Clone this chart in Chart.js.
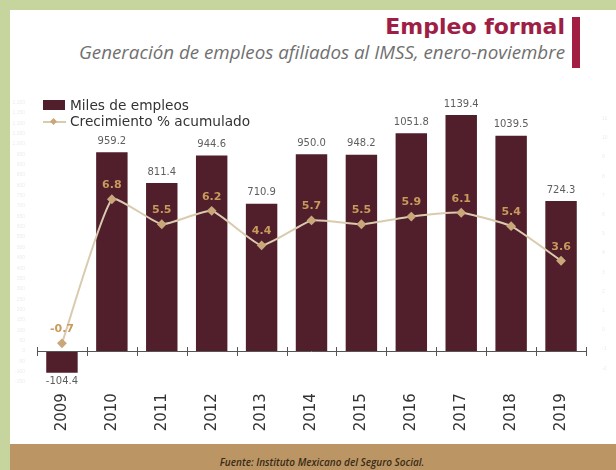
<!DOCTYPE html>
<html>
<head>
<meta charset="utf-8">
<script src="https://cdn.jsdelivr.net/npm/chart.js@4.4.1/dist/chart.umd.min.js"></script>
<style>
  body { margin: 0; width: 616px; height: 470px; background: #c5d59d; position: relative; overflow: hidden; font-family: "DejaVu Sans", sans-serif; }
  #panel { position: absolute; left: 10px; top: 10px; width: 606px; height: 434px; background: #fff; }
  #footer { position: absolute; left: 10px; top: 444px; width: 606px; height: 26px; background: #bb9664; }
  #source { position: absolute; left: 10px; width: 606px; top: 455px; text-align: center; padding-left: 18px; box-sizing: border-box;
            font: italic 600 10px "Open Sans", sans-serif; color: #3a2a18; }
  #title { position: absolute; right: 51px; top: 14px; font: bold 22px "DejaVu Sans", sans-serif; color: #9e1e45; white-space: nowrap; }
  #subtitle { position: absolute; right: 51px; top: 42px; font: italic 18.8px "Open Sans", sans-serif; color: #707070; white-space: nowrap; line-height: 1.1; }
  #redbar { position: absolute; left: 572px; top: 17px; width: 8px; height: 51px; background: #a21f43; }
  #chart { position: absolute; left: 10px; top: 90px; }
  .leg { position: absolute; left: 70px; font-size: 13.7px; color: #333; white-space: nowrap; line-height: 16px; }
  #legBox { position: absolute; left: 43px; top: 100px; width: 22px; height: 10px; background: #511f2c; }
  #legLine { position: absolute; left: 43px; top: 121px; width: 23px; height: 2px; background: #d9cbb0; }
  #legDot { position: absolute; left: 51px; top: 119px; width: 5px; height: 5px; background: #c9a77a; transform: rotate(45deg); }
</style>
</head>
<body>
<div id="panel"></div>
<div id="footer"></div>
<div id="source">Fuente: Instituto Mexicano del Seguro Social.</div>
<div id="title">Empleo formal</div>
<div id="subtitle">Generación de empleos afiliados al IMSS, enero-noviembre</div>
<div id="redbar"></div>
<canvas id="chart" width="606" height="350"></canvas>
<div id="legBox"></div>
<div class="leg" style="top:97px">Miles de empleos</div>
<div id="legLine"></div>
<div id="legDot"></div>
<div class="leg" style="top:113px">Crecimiento % acumulado</div>
<script>
const years = ["2009", "2010", "2011", "2012", "2013", "2014", "2015", "2016", "2017", "2018", "2019"];
const empleos = [-104.4, 959.2, 811.4, 944.6, 710.9, 950.0, 948.2, 1051.8, 1139.4, 1039.5, 724.3];
const crecimiento = [-0.7, 6.8, 5.5, 6.2, 4.4, 5.7, 5.5, 5.9, 6.1, 5.4, 3.6];

const barColor = "#511f2c";
const lineColor = "#d9cbb0";
const pointColor = "#c9a77a";
const growthLabelColor = "#c89a5c";

// zero line with small ticks between categories, and the value labels
const decorations = {
  id: "decorations",
  afterDatasetsDraw(chart) {
    const ctx = chart.ctx;
    const area = chart.chartArea;
    const y0 = chart.scales.y.getPixelForValue(0);
    const n = years.length;
    const step = (area.right - area.left) / n;

    ctx.save();
    ctx.strokeStyle = "#555";
    ctx.lineWidth = 1;
    ctx.beginPath();
    ctx.moveTo(area.left, Math.round(y0) + 0.5);
    ctx.lineTo(area.right, Math.round(y0) + 0.5);
    for (let i = 0; i <= n; i++) {
      const x = Math.round(area.left + i * step) + 0.5;
      ctx.moveTo(x, y0 - 4);
      ctx.lineTo(x, y0 + 5);
    }
    ctx.stroke();

    ctx.textAlign = "center";
    ctx.textBaseline = "middle";
    ctx.font = '10px "DejaVu Sans"';
    ctx.fillStyle = "#5e5e5e";
    chart.getDatasetMeta(0).data.forEach((bar, i) => {
      const v = empleos[i];
      const y = v >= 0 ? bar.y - 11 : bar.y + 9;
      ctx.fillText(v.toFixed(1), bar.x, y);
    });

    ctx.font = 'bold 11px "DejaVu Sans"';
    ctx.fillStyle = growthLabelColor;
    chart.getDatasetMeta(1).data.forEach((pt, i) => {
      ctx.fillText(crecimiento[i].toFixed(1), pt.x, pt.y - 14);
    });
    ctx.restore();
  }
};

new Chart(document.getElementById("chart"), {
  type: "bar",
  data: {
    labels: years,
    datasets: [
      {
        type: "bar",
        label: "Miles de empleos",
        data: empleos,
        backgroundColor: barColor,
        barPercentage: 0.63,
        categoryPercentage: 1,
        yAxisID: "y",
        order: 1,
      },
      {
        type: "line",
        label: "Crecimiento % acumulado",
        data: crecimiento,
        borderColor: lineColor,
        borderWidth: 2,
        pointStyle: "rectRot",
        pointRadius: 3.5,
        pointBackgroundColor: pointColor,
        pointBorderColor: pointColor,
        tension: 0.15,
        yAxisID: "y1",
        order: 0,
      },
    ],
  },
  options: {
    responsive: false,
    animation: false,
    devicePixelRatio: 1,
    layout: { padding: { top: 12.5, left: 0, right: 0, bottom: 0 } },
    plugins: {
      legend: { display: false },
      tooltip: { enabled: false },
    },
    scales: {
      x: {
        grid: { display: false, drawTicks: false },
        border: { display: false },
        ticks: {
          maxRotation: 90,
          minRotation: 90,
          padding: 11,
          color: "#333",
          font: { family: "DejaVu Sans", size: 15 },
        },
        afterFit(scale) { scale.height = 57.9; },
      },
      y: {
        position: "left",
        min: -150,
        max: 1200,
        grid: { display: false },
        border: { display: false },
        ticks: { stepSize: 50, color: "#ececec", font: { size: 5 }, padding: 4 },
        afterFit(scale) { scale.width = 27; },
      },
      y1: {
        position: "right",
        min: -2.72,
        max: 11.84,
        grid: { display: false },
        border: { display: false },
        ticks: { stepSize: 1, includeBounds: false, color: "#ececec", font: { size: 5 }, padding: 8 },
        afterFit(scale) { scale.width = 30; },
      },
    },
  },
  plugins: [decorations],
});
</script>
</body>
</html>
